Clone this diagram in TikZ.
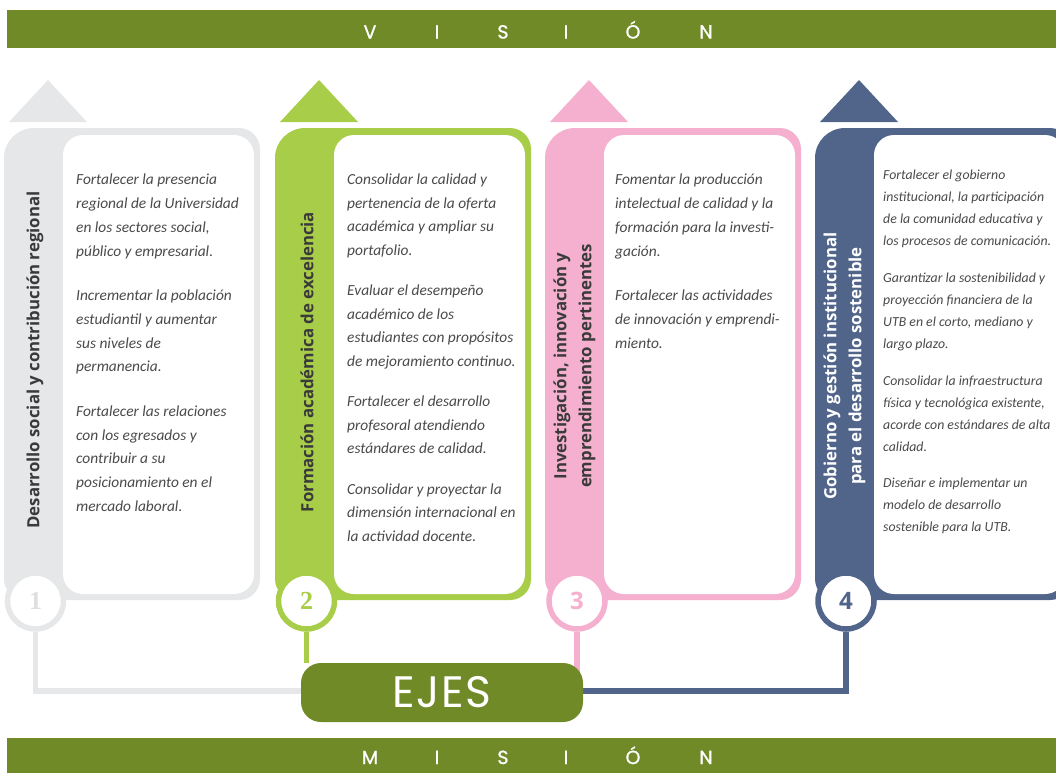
\documentclass[tikz,border=0pt]{standalone}
\usepackage{fontspec}
\setmainfont{Carlito}
\newfontfamily\titlefont{Open Sans}
\newfontfamily\bannerfont{Poppins}
\newfontfamily\bannerbold[FakeBold=1]{Poppins}
\newfontfamily\serifnum{Liberation Serif}
\definecolor{bannergreen}{HTML}{6F8A27}
\definecolor{lgray}{HTML}{E6E7E8}
\definecolor{numgray}{HTML}{DEDFE1}
\definecolor{lime}{HTML}{A8CD48}
\definecolor{pinkc}{HTML}{F5B0D0}
\definecolor{navy}{HTML}{51658B}
\definecolor{textgray}{HTML}{4A4A4A}
\definecolor{titlegray}{HTML}{3A3A3A}
\newcommand\ejecol[2]{%
  \begin{scope}
    \clip[rounded corners=30pt] (#1,128) rectangle (#1+300,700);
    \fill[#2, rounded corners=21pt] (#1,128) rectangle (#1+256,600);
  \end{scope}
  \fill[white, rounded corners=20pt] (#1+59,135) rectangle (#1+250,594);
  \fill[#2] (#1+5,122) -- (#1+44,80) -- (#1+83,122) -- cycle;
}
\begin{document}
\begin{tikzpicture}[x=1pt,y=-1pt,
  bannertext/.style={text=white, font=\bannerbold\fontsize{19}{19}\selectfont, anchor=base, inner sep=0pt},
  conn/.style={line width=5.5pt, line join=miter},
  numcirc/.style={circle, line width=5.5pt, fill=white, minimum size=56pt, inner sep=0pt},
  title/.style={rotate=90, align=center, inner sep=0pt, text=titlegray,
    font=\titlefont\bfseries\fontsize{16.8}{25}\selectfont},
  body/.style={anchor=north west, align=left, inner sep=0pt, text=textgray,
    font=\itshape\fontsize{15.4}{23.7}\selectfont},
  smallbody/.style={body, font=\itshape\fontsize{13.8}{22}\selectfont},
  ejesbox/.style={fill=bannergreen, rounded corners=20pt, minimum width=282pt, minimum height=59pt,
    inner sep=0pt, text=white, font=\bannerfont\fontsize{44}{44}\selectfont}]
\useasboundingbox (0,0) rectangle (1056,772);
\clip (0,0) rectangle (1056,772);

% banners
\fill[bannergreen] (7,10) rectangle (1060,48);
\fill[bannergreen] (7,738) rectangle (1060,780);
\foreach \ch/\xx [count=\i] in {V/370, I/437, S/503, I/566, Ó/633, N/706}
  \node[bannertext] (v\i) at (\xx,38.5) {\ch};
\foreach \ch/\xx [count=\i] in {M/370, I/437, S/503, I/566, Ó/633, N/706}
  \node[bannertext] (m\i) at (\xx,764) {\ch};

% columns
\ejecol{4}{lgray}
\ejecol{275}{lime}
\ejecol{545}{pinkc}
\ejecol{815}{navy}

% circles
\node[numcirc, draw=lgray, text=numgray, font=\serifnum\bfseries\fontsize{26}{26}\selectfont] (c1) at (35.5,601) {1};
\node[numcirc, draw=lime, text=lime, font=\serifnum\bfseries\fontsize{26}{26}\selectfont] (c2) at (306.5,601) {2};
\node[numcirc, draw=pinkc, text=pinkc, font=\titlefont\bfseries\fontsize{24}{24}\selectfont] (c3) at (577,601) {3};
\node[numcirc, draw=navy, text=navy, font=\titlefont\bfseries\fontsize{24}{24}\selectfont] (c4) at (846,601) {4};

% connectors, then EJES box on top
\coordinate (h) at (0,691);
\coordinate (ec) at (442,692.5);
\coordinate (ew) at (301,692.5);
\coordinate (ee) at (583,692.5);
\coordinate (en) at (442,663);
\draw[conn, lgray] (c1.south) -- (c1.south |- h) -- (ew |- h);
\draw[conn, lime] (c2.south) -- (c2.south |- en);
\draw[conn, pinkc] (c3.south) -- (c3.south |- ec);
\draw[conn, navy] (c4.south) -- (c4.south |- h) -- (ee |- h);
\node[ejesbox] (ejes) at (ec) {E\kern1.5pt J\kern1.5pt E\kern1.5pt S};

% titles
\node[title] (h1) at (35,360) {Desarrollo social y contribución regional};
\node[title] (h2) at (307,362) {Formación académica de excelencia};
\node[title] (h3) at (574.5,366) {Investigación, innovación y\\emprendimiento pertinentes};
\node[title, text=white] (h4) at (844.5,366) {Gobierno y gestión institucional\\para el desarrollo sostenible};

% body texts
\node[body] (t1) at (76,174) {Fortalecer la presencia\\regional de la Universidad\\en los sectores social,\\público y empresarial.\\[21pt]
Incrementar la población\\estudiantil y aumentar\\sus niveles de\\permanencia.\\[21pt]
Fortalecer las relaciones\\con los egresados y\\contribuir a su\\posicionamiento en el\\mercado laboral.};
\node[body, font=\itshape\fontsize{15.4}{23.5}\selectfont] (t2) at (347,174) {Consolidar la calidad y\\pertenencia de la oferta\\académica y ampliar su\\portafolio.\\[17pt]
Evaluar el desempeño\\académico de los\\estudiantes con propósitos\\de mejoramiento continuo.\\[17pt]
Fortalecer el desarrollo\\profesoral atendiendo\\estándares de calidad.\\[17pt]
Consolidar y proyectar la\\dimensión internacional en\\la actividad docente.};
\node[body] (t3) at (615,174) {Fomentar la producción\\intelectual de calidad y la\\formación para la investi-\\gación.\\[21pt]
Fortalecer las actividades\\de innovación y emprendi-\\miento.};
\node[smallbody] (t4) at (883,170) {Fortalecer el gobierno\\institucional, la participación\\de la comunidad educativa y\\los procesos de comunicación.\\[14.7pt]
Garantizar la sostenibilidad y\\proyección financiera de la\\UTB en el corto, mediano y\\largo plazo.\\[14.7pt]
Consolidar la infraestructura\\física y tecnológica existente,\\acorde con estándares de alta\\calidad.\\[14.7pt]
Diseñar e implementar un\\modelo de desarrollo\\sostenible para la UTB.};
\end{tikzpicture}
\end{document}
